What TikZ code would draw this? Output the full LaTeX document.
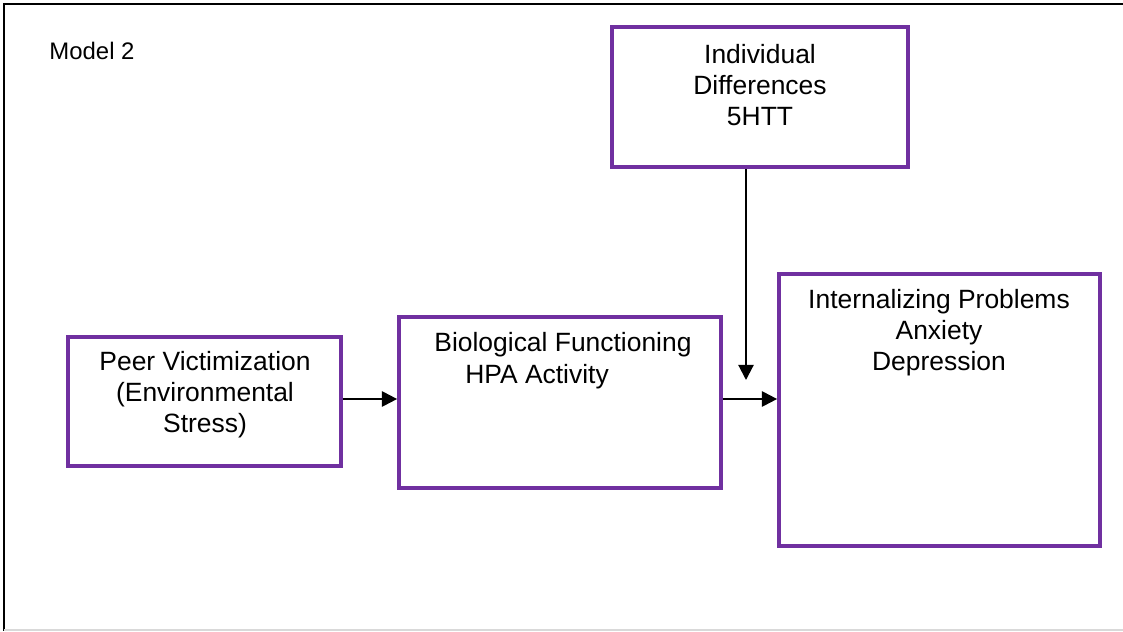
\documentclass[tikz,border=0pt]{standalone}
\usepackage{fontspec}
\setmainfont{Liberation Sans}
\usetikzlibrary{arrows.meta}
\definecolor{boxpurple}{RGB}{112,48,160}

\begin{document}
\begin{tikzpicture}[x=0.025cm,y=-0.025cm,
    box/.style={draw=boxpurple,line width=2.6pt,minimum width=#1,inner sep=0pt},
    txt/.style={font=\fontsize{18.8}{22}\selectfont,align=center,inner sep=0pt},
    arr/.style={line width=1.5pt,-{Triangle[length=0.38cm,width=0.38cm]}}]
  % page frame
  \useasboundingbox (0,0) rectangle (1123,631);
  \draw[line width=1.6pt] (3,4) -- (1123,4);
  \draw[line width=1.6pt] (4,3) -- (4,631);
  \draw[line width=1pt,gray!30] (4,630) -- (1123,630);
  \node[font=\fontsize{17}{19}\selectfont,inner sep=0pt] (title) at (92,51) {Model 2};

  % boxes
  \node[box=7.4cm,minimum height=3.5cm] (indiv) at (760,97) {};
  \node[box=6.825cm,minimum height=3.225cm] (peer) at (204.5,401.5) {};
  \node[box=8.05cm,minimum height=4.275cm] (bio) at (560,402.5) {};
  \node[box=8.025cm,minimum height=6.8cm] (intern) at (939.5,410) {};

  % texts
  \node[txt] (indivtxt) at (760,85) {Individual\\Differences\\5HTT};
  \node[txt] (peertxt) at (205,395) {Peer Victimization\\(Environmental\\Stress)};
  \node[txt] (biotxt) at (563,345) {Biological Functioning};
  \node[txt,anchor=west] (hpatxt) at (465,377) {HPA Activity};
  \node[txt] (interntxt) at (939,333) {Internalizing Problems\\Anxiety\\Depression};

  % arrows
  \coordinate (tip) at (746,380);
  \draw[arr] (peer.east |- 0,399) -- (bio.west |- 0,399);
  \draw[arr] (bio.east |- 0,399) -- (intern.west |- 0,399);
  \draw[arr] (indiv.south -| tip) -- (tip);
\end{tikzpicture}
\end{document}
